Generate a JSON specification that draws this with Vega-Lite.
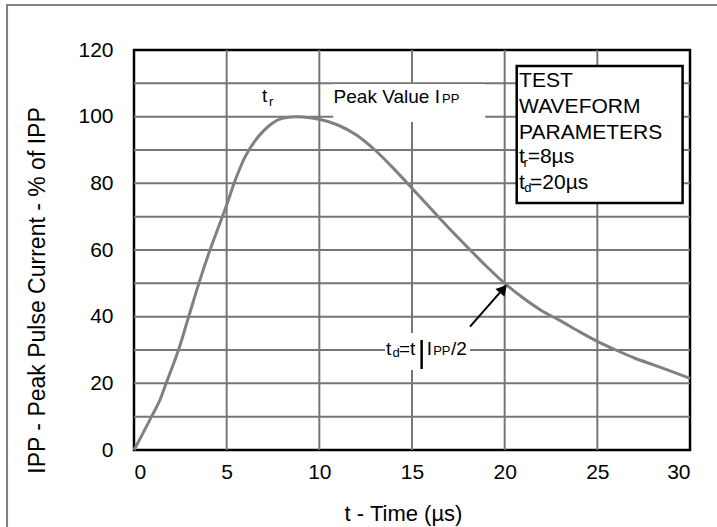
{
  "$schema": "https://vega.github.io/schema/vega-lite/v6.json",
  "width": 556,
  "height": 400,
  "autosize": {"type": "none"},
  "padding": {"left": 134, "top": 50, "right": 27, "bottom": 77},
  "background": "white",
  "config": {
    "font": "Liberation Sans",
    "view": {"stroke": "#000000", "strokeWidth": 2.5},
    "axis": {
      "grid": false,
      "domain": false,
      "tickSize": 0,
      "tickColor": "transparent",
      "labelFont": "Liberation Sans",
      "labelFontSize": 21,
      "labelColor": "#000000",
      "titleFont": "Liberation Sans",
      "titleFontWeight": "normal",
      "titleColor": "#000000"
    }
  },
  "datasets": {
    "frame": [{"t1": -6.85, "t2": 32, "v1": 133.5, "v2": -30}],
    "vgrid": [
      {"t": 5, "v1": 0, "v2": 120},
      {"t": 10, "v1": 0, "v2": 120},
      {"t": 15, "v1": 0, "v2": 120},
      {"t": 20, "v1": 0, "v2": 120},
      {"t": 25, "v1": 0, "v2": 120}
    ],
    "hgrid": [
      {"v": 10, "t1": 0, "t2": 30},
      {"v": 20, "t1": 0, "t2": 30},
      {"v": 30, "t1": 0, "t2": 30},
      {"v": 40, "t1": 0, "t2": 30},
      {"v": 50, "t1": 0, "t2": 30},
      {"v": 60, "t1": 0, "t2": 30},
      {"v": 70, "t1": 0, "t2": 30},
      {"v": 80, "t1": 0, "t2": 30},
      {"v": 90, "t1": 0, "t2": 30},
      {"v": 100, "t1": 0, "t2": 30},
      {"v": 110, "t1": 0, "t2": 30}
    ],
    "whiteboxes": [
      {"t1": 10.75, "t2": 18.95, "v1": 98.4, "v2": 109.8},
      {"t1": 13.55, "t2": 18.13, "v1": 24.0, "v2": 35.1}
    ],
    "testbox": [{"t1": 20.65, "t2": 29.6, "v1": 74.1, "v2": 115.2}],
    "curve": [
      {"t": 0, "v": 0},
      {"t": 0.5, "v": 5.2},
      {"t": 1.0, "v": 10.6},
      {"t": 1.4, "v": 15},
      {"t": 1.8, "v": 21},
      {"t": 2.4, "v": 30},
      {"t": 2.95, "v": 40},
      {"t": 3.5, "v": 50},
      {"t": 4.1, "v": 60},
      {"t": 4.6, "v": 67.5},
      {"t": 5.0, "v": 73.5},
      {"t": 5.4, "v": 80},
      {"t": 6.0, "v": 88},
      {"t": 6.5, "v": 92.5},
      {"t": 7.0, "v": 95.8},
      {"t": 7.5, "v": 98.2},
      {"t": 8.0, "v": 99.5},
      {"t": 8.7, "v": 100},
      {"t": 9.5, "v": 99.7},
      {"t": 10.0, "v": 99.2},
      {"t": 11.0, "v": 97.5},
      {"t": 12.0, "v": 94.5},
      {"t": 13.0, "v": 90},
      {"t": 14.0, "v": 84.5},
      {"t": 15.0, "v": 78.5},
      {"t": 16.0, "v": 72.5},
      {"t": 17.0, "v": 66.5},
      {"t": 18.0, "v": 60.8},
      {"t": 19.0, "v": 55.2},
      {"t": 20.0, "v": 50},
      {"t": 21.0, "v": 45.6},
      {"t": 22.0, "v": 41.8},
      {"t": 23.0, "v": 38.8},
      {"t": 24.0, "v": 35.6},
      {"t": 25.0, "v": 32.6},
      {"t": 26.0, "v": 30},
      {"t": 27.0, "v": 27.6},
      {"t": 28.0, "v": 25.6},
      {"t": 29.0, "v": 23.6},
      {"t": 30.0, "v": 21.5}
    ],
    "arrow": [{"t": 18.13, "v": 37}, {"t": 19.74, "v": 47.2}],
    "arrowhead": [{"t": 19.93, "v": 48.3}],
    "bar": [{"t": 15.52, "v1": 24.3, "v2": 33.0}],
    "boxtext": [
      {"t": 20.78, "v": 108.8, "text": "TEST"},
      {"t": 20.78, "v": 101.0, "text": "WAVEFORM"},
      {"t": 20.78, "v": 93.2, "text": "PARAMETERS"},
      {"t": 20.78, "v": 86.0, "text": "t"},
      {"t": 21.24, "v": 86.0, "text": "=8µs"},
      {"t": 20.78, "v": 78.2, "text": "t"},
      {"t": 21.37, "v": 78.2, "text": "=20µs"}
    ],
    "annot": [
      {"t": 6.9, "v": 104.4, "text": "t"},
      {"t": 10.77, "v": 104.0, "text": "Peak Value I"},
      {"t": 13.6, "v": 28.5, "text": "t"},
      {"t": 14.3, "v": 28.5, "text": "=t"},
      {"t": 15.8, "v": 28.5, "text": "I"},
      {"t": 17.1, "v": 28.5, "text": "/2"}
    ],
    "subs": [
      {"t": 7.28, "v": 103.2, "text": "r"},
      {"t": 16.62, "v": 104.0, "text": "PP"},
      {"t": 13.95, "v": 27.9, "text": "d"},
      {"t": 16.14, "v": 28.5, "text": "PP"},
      {"t": 21.02, "v": 84.9, "text": "r"},
      {"t": 21.05, "v": 77.5, "text": "d"}
    ]
  },
  "layer": [
    {
      "data": {"name": "vgrid"},
      "mark": {"type": "rule", "color": "#767676", "strokeWidth": 2},
      "encoding": {
        "x": {
          "field": "t",
          "type": "quantitative",
          "scale": {"domain": [0, 30], "nice": false, "zero": false},
          "axis": {
            "values": [0, 5, 10, 15, 20, 25, 30],
            "labelPadding": 11,
            "title": "t - Time (µs)",
            "titleFontSize": 22,
            "titleX": 269,
            "titleY": 70,
            "titleBaseline": "alphabetic",
            "titleAlign": "center"
          }
        },
        "y": {
          "field": "v1",
          "type": "quantitative",
          "scale": {"domain": [0, 120], "nice": false, "zero": false},
          "axis": {
            "values": [0, 20, 40, 60, 80, 100, 120],
            "labelPadding": 21,
            "title": "IPP - Peak Pulse Current - % of IPP",
            "titleFontSize": 23,
            "titleAngle": 270,
            "titleX": -90,
            "titleY": 240,
            "titleBaseline": "alphabetic",
            "titleAlign": "center"
          }
        },
        "y2": {"field": "v2"}
      }
    },
    {
      "data": {"name": "hgrid"},
      "mark": {"type": "rule", "color": "#767676", "strokeWidth": 2},
      "encoding": {
        "x": {"field": "t1", "type": "quantitative"},
        "x2": {"field": "t2"},
        "y": {"field": "v", "type": "quantitative"}
      }
    },
    {
      "data": {"name": "frame"},
      "mark": {"type": "rect", "filled": false, "color": "#808080", "strokeWidth": 2},
      "encoding": {
        "x": {"field": "t1", "type": "quantitative"},
        "x2": {"field": "t2"},
        "y": {"field": "v1", "type": "quantitative"},
        "y2": {"field": "v2"}
      }
    },
    {
      "data": {"name": "whiteboxes"},
      "mark": {"type": "rect", "fill": "#ffffff", "strokeWidth": 0},
      "encoding": {
        "x": {"field": "t1", "type": "quantitative"},
        "x2": {"field": "t2"},
        "y": {"field": "v1", "type": "quantitative"},
        "y2": {"field": "v2"}
      }
    },
    {
      "data": {"name": "testbox"},
      "mark": {"type": "rect", "fill": "#ffffff", "stroke": "#000000", "strokeWidth": 2.5},
      "encoding": {
        "x": {"field": "t1", "type": "quantitative"},
        "x2": {"field": "t2"},
        "y": {"field": "v1", "type": "quantitative"},
        "y2": {"field": "v2"}
      }
    },
    {
      "data": {"name": "curve"},
      "mark": {"type": "line", "color": "#808080", "strokeWidth": 3, "interpolate": "monotone"},
      "encoding": {
        "x": {"field": "t", "type": "quantitative"},
        "y": {"field": "v", "type": "quantitative"}
      }
    },
    {
      "data": {"name": "arrow"},
      "mark": {"type": "line", "color": "#000000", "strokeWidth": 2},
      "encoding": {
        "x": {"field": "t", "type": "quantitative"},
        "y": {"field": "v", "type": "quantitative"}
      }
    },
    {
      "data": {"name": "arrowhead"},
      "mark": {"type": "point", "shape": "triangle-up", "filled": true, "color": "#000000", "size": 144, "angle": 41, "opacity": 1},
      "encoding": {
        "x": {"field": "t", "type": "quantitative"},
        "y": {"field": "v", "type": "quantitative"}
      }
    },
    {
      "data": {"name": "bar"},
      "mark": {"type": "rule", "color": "#000000", "strokeWidth": 2.5},
      "encoding": {
        "x": {"field": "t", "type": "quantitative"},
        "y": {"field": "v1", "type": "quantitative"},
        "y2": {"field": "v2"}
      }
    },
    {
      "data": {"name": "boxtext"},
      "mark": {"type": "text", "align": "left", "baseline": "alphabetic", "fontSize": 21, "font": "Liberation Sans", "color": "#000000"},
      "encoding": {
        "x": {"field": "t", "type": "quantitative"},
        "y": {"field": "v", "type": "quantitative"},
        "text": {"field": "text"}
      }
    },
    {
      "data": {"name": "annot"},
      "mark": {"type": "text", "align": "left", "baseline": "alphabetic", "fontSize": 19, "font": "Liberation Sans", "color": "#000000"},
      "encoding": {
        "x": {"field": "t", "type": "quantitative"},
        "y": {"field": "v", "type": "quantitative"},
        "text": {"field": "text"}
      }
    },
    {
      "data": {"name": "subs"},
      "mark": {"type": "text", "align": "left", "baseline": "alphabetic", "fontSize": 13, "font": "Liberation Sans", "color": "#000000"},
      "encoding": {
        "x": {"field": "t", "type": "quantitative"},
        "y": {"field": "v", "type": "quantitative"},
        "text": {"field": "text"}
      }
    }
  ]
}
